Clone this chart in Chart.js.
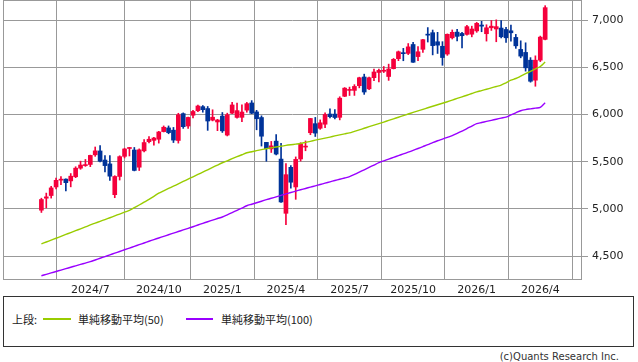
<!DOCTYPE html>
<html><head><meta charset="utf-8">
<script src="https://cdn.jsdelivr.net/npm/chart.js@4/dist/chart.umd.min.js"></script>
<style>
html,body{margin:0;padding:0;background:#fff;width:638px;height:362px;overflow:hidden}
#wrap{position:absolute;left:0;top:0;width:638px;height:296px}
#legend{position:absolute;left:3px;top:296px;width:631px;height:51px;box-sizing:border-box;border:1px solid #333}
.lt{position:absolute;font-family:"Noto Sans CJK JP","DejaVu Sans",sans-serif;font-size:11px;line-height:14px;color:#222;white-space:nowrap}
.ln{position:absolute;height:2px}
#copy{position:absolute;right:19px;top:350px;font-family:"DejaVu Sans",sans-serif;font-size:10px;line-height:14px;color:#333}
</style></head>
<body>
<div id="wrap"><canvas id="c" width="638" height="296"></canvas></div>
<div id="legend"></div>
<div class="lt" style="left:12px;top:312px">上段:</div>
<div class="ln" style="left:43px;top:318px;width:28px;background:#99CC00"></div>
<div class="lt" style="left:78px;top:312px">単純移動平均(50)</div>
<div class="ln" style="left:186px;top:318px;width:27px;background:#9900FF"></div>
<div class="lt" style="left:221px;top:312px">単純移動平均(100)</div>
<div id="copy">(c)Quants Research Inc.</div>
<script>
// weekly candles, week starting dates
const weeks = ["2024-04-22","2024-04-29","2024-05-06","2024-05-13","2024-05-20","2024-05-27","2024-06-03","2024-06-10","2024-06-17","2024-06-24",
"2024-07-01","2024-07-08","2024-07-15","2024-07-22","2024-07-29","2024-08-05","2024-08-12","2024-08-19","2024-08-26","2024-09-02",
"2024-09-09","2024-09-16","2024-09-23","2024-09-30","2024-10-07","2024-10-14","2024-10-21","2024-10-28","2024-11-04","2024-11-11",
"2024-11-18","2024-11-25","2024-12-02","2024-12-09","2024-12-16","2024-12-23","2024-12-30","2025-01-06","2025-01-13","2025-01-20",
"2025-01-27","2025-02-03","2025-02-10","2025-02-18","2025-02-24","2025-03-03","2025-03-10","2025-03-17","2025-03-24","2025-03-31",
"2025-04-07","2025-04-14","2025-04-21","2025-04-28","2025-05-05","2025-05-12","2025-05-19","2025-05-26","2025-06-02","2025-06-09",
"2025-06-16","2025-06-23","2025-06-30","2025-07-07","2025-07-14","2025-07-21","2025-07-28","2025-08-04","2025-08-11","2025-08-18",
"2025-08-25","2025-09-01","2025-09-08","2025-09-15","2025-09-22","2025-09-29","2025-10-06","2025-10-13","2025-10-20","2025-10-27",
"2025-11-03","2025-11-10","2025-11-17","2025-11-24","2025-12-01","2025-12-08","2025-12-15","2025-12-22","2025-12-29","2026-01-05",
"2026-01-12","2026-01-19","2026-01-26","2026-02-02","2026-02-09","2026-02-16","2026-02-23","2026-03-02","2026-03-09","2026-03-16",
"2026-03-23","2026-03-30","2026-04-06","2026-04-13"];
const open = [4987,5114,5142,5233,5305,5316,5297,5341,5432,5459,
5471,5573,5614,5518,5477,5151,5344,5557,5640,5624,
5442,5615,5712,5726,5738,5819,5858,5834,5725,6009,
5878,5992,6040,6083,6063,5940,5921,5983,5782,6014,
5969,5970,6046,6122,6027,5968,5705,5636,5718,5528,
4954,5441,5233,5529,5655,5807,5903,5854,5897,6005,
6004,5970,6193,6255,6255,6305,6397,6272,6390,6445,
6458,6402,6485,6591,6648,6647,6741,6613,6690,6845,
6866,6770,6722,6640,6812,6872,6858,6848,6850,6885,
6947,6855,6918,6905,6915,6900,6886,6816,6689,6657,
6575,6363,6575,6795];
const high = [5114,5168,5240,5326,5342,5318,5375,5447,5506,5524,
5570,5656,5670,5566,5566,5352,5563,5643,5652,5651,
5636,5734,5767,5758,5822,5879,5879,5863,6013,6017,
5973,6044,6099,6095,6085,6050,5949,6021,6014,6128,
6121,6101,6128,6147,6044,5986,5705,5715,5787,5695,
5481,5460,5551,5701,5720,5959,5969,5943,6017,6059,
6051,6188,6285,6290,6316,6395,6427,6395,6481,6482,
6508,6533,6593,6672,6700,6751,6764,6718,6796,6920,
6894,6870,6771,6853,6895,6901,6870,6945,6935,6975,
6986,6950,6995,7002,6993,6922,6947,6848,6780,6759,
6602,6621,6830,7152];
const low = [4963,5011,5115,5211,5257,5192,5234,5331,5420,5451,
5448,5557,5497,5391,5302,5119,5306,5540,5561,5403,
5407,5604,5698,5674,5697,5815,5796,5703,5697,5853,
5853,5964,6029,6024,5832,5932,5829,5810,5773,6009,
5962,5924,6024,6009,5838,5666,5505,5598,5572,5070,
4835,5221,5102,5507,5616,5786,5767,5843,5861,5963,
5953,5943,6189,6201,6202,6282,6213,6262,6359,6344,
6444,6361,6482,6570,6569,6634,6551,6569,6657,6767,
6631,6646,6521,6626,6799,6780,6705,6840,6822,6870,
6876,6777,6890,6770,6810,6763,6777,6700,6600,6459,
6342,6299,6560,6790];
const close = [5100,5128,5223,5303,5305,5278,5347,5432,5465,5460,
5567,5615,5505,5459,5347,5344,5554,5635,5648,5408,
5626,5703,5738,5751,5815,5865,5808,5729,5996,5871,
5969,6032,6090,6051,5931,5971,5942,5827,5997,6101,
6041,6026,6115,6013,5955,5770,5639,5668,5581,5074,
5363,5283,5525,5687,5660,5958,5803,5912,6000,5977,
5968,6173,6279,6260,6297,6389,6238,6389,6450,6467,
6460,6482,6584,6664,6644,6716,6553,6664,6792,6840,
6729,6734,6603,6849,6870,6827,6834,6930,6905,6965,
6935,6918,6935,6930,6823,6812,6865,6727,6618,6494,
6352,6575,6819,7131];
const sma50 = [4630,4650,4670,4690,4710,4730,4750,4770,4790,4810,
4831,4850,4869,4888,4907,4927,4946,4966,4985,5013,
5042,5072,5102,5134,5167,5192,5217,5241,5266,5291,
5316,5340,5365,5390,5415,5440,5465,5489,5510,5532,
5553,5574,5595,5606,5617,5628,5638,5647,5656,5664,
5673,5680,5686,5693,5705,5716,5728,5739,5750,5761,
5773,5784,5795,5806,5822,5838,5854,5871,5887,5903,
5920,5937,5954,5971,5988,6005,6022,6038,6054,6071,
6087,6103,6119,6135,6152,6170,6187,6204,6222,6239,
6253,6267,6282,6296,6310,6336,6363,6381,6406,6432,
6457,6483,6508,6555];
const sma100 = [4293,4308,4323,4338,4353,4368,4383,4398,4413,4427,
4442,4460,4478,4496,4514,4532,4550,4568,4586,4604,
4622,4640,4658,4676,4693,4710,4727,4744,4761,4778,
4795,4812,4830,4848,4865,4882,4899,4915,4938,4962,
4986,5010,5034,5050,5066,5082,5098,5113,5128,5144,
5160,5174,5189,5203,5217,5231,5245,5259,5273,5287,
5301,5314,5328,5342,5365,5390,5415,5440,5465,5490,
5510,5528,5546,5565,5583,5601,5620,5640,5660,5680,
5702,5722,5740,5758,5776,5800,5825,5850,5877,5903,
5915,5927,5938,5950,5962,5973,5995,6018,6040,6052,
6060,6068,6075,6124];
// x tick labels at the first week of each quarter
const tickIndex = [10,24,37,50,63,76,89,102];
const tickLabels = ["2024/7","2024/10","2025/1","2025/4","2025/7","2025/10","2026/1","2026/4"];
const yTicks = [4500,5000,5500,6000,6500,7000];

const UP = "#F5003C", DOWN = "#003399";
const colors = close.map((c,i)=> c>=open[i] ? UP : DOWN);

const frame = {
  id:'frame',
  beforeDatasetsDraw(chart){
    const a = chart.chartArea, ctx = chart.ctx;
    ctx.save();
    ctx.strokeStyle = '#999';
    ctx.lineWidth = 1;
    ctx.strokeRect(Math.round(a.left)+0.5, Math.round(a.top)+0.5, Math.round(a.right-a.left)-1, Math.round(a.bottom-a.top)-1);
    ctx.restore();
  }
};

new Chart(document.getElementById('c'), {
  data: {
    datasets: [
      {type:'line', label:'単純移動平均(50)', data: sma50.map((v,i)=>({x:i,y:v})), borderColor:'#99CC00', borderWidth:1.4, pointRadius:0, tension:0.3, order:0},
      {type:'line', label:'単純移動平均(100)', data: sma100.map((v,i)=>({x:i,y:v})), borderColor:'#9900FF', borderWidth:1.4, pointRadius:0, tension:0.3, order:0},
      {type:'bar', label:'body', data: weeks.map((w,i)=>({x:i,y:[Math.min(open[i],close[i]),Math.max(open[i],close[i])]})), backgroundColor: colors, barThickness:4, minBarLength:1, grouped:false, order:1},
      {type:'bar', label:'wick', data: weeks.map((w,i)=>({x:i,y:[low[i],high[i]]})), backgroundColor: colors, barThickness:1, grouped:false, order:2}
    ]
  },
  options: {
    responsive:false, animation:false, devicePixelRatio:1,
    layout:{padding:{left:3,top:0,right:0,bottom:0}},
    plugins:{legend:{display:false}, tooltip:{enabled:false}},
    scales:{
      x:{type:'linear', min:-7.85, max:110.53, offset:false,
        afterBuildTicks: s => { s.ticks = tickIndex.map(v=>({value:v})); },
        afterFit: s => { s.height = 16; s.paddingLeft = 0; s.paddingRight = 0; },
        ticks:{autoSkip:false, maxRotation:0, padding:4, color:'#222',
          font:{family:'DejaVu Sans', size:11},
          callback: v => tickLabels[tickIndex.indexOf(v)]},
        grid:{color:'#999', lineWidth:1, drawTicks:false},
        border:{display:false}
      },
      y:{position:'right', min:4248, max:7212,
        afterBuildTicks: s => { s.ticks = yTicks.map(v=>({value:v})); },
        afterFit: s => { s.width = 56; s.paddingTop = 0; s.paddingBottom = 0; },
        ticks:{padding:4, color:'#222', font:{family:'DejaVu Sans', size:11},
          callback: v => v.toLocaleString('en-US')},
        grid:{color:'#999', lineWidth:1, tickLength:6, drawTicks:true},
        border:{display:false}
      }
    }
  },
  plugins:[frame]
});
</script>
</body></html>
